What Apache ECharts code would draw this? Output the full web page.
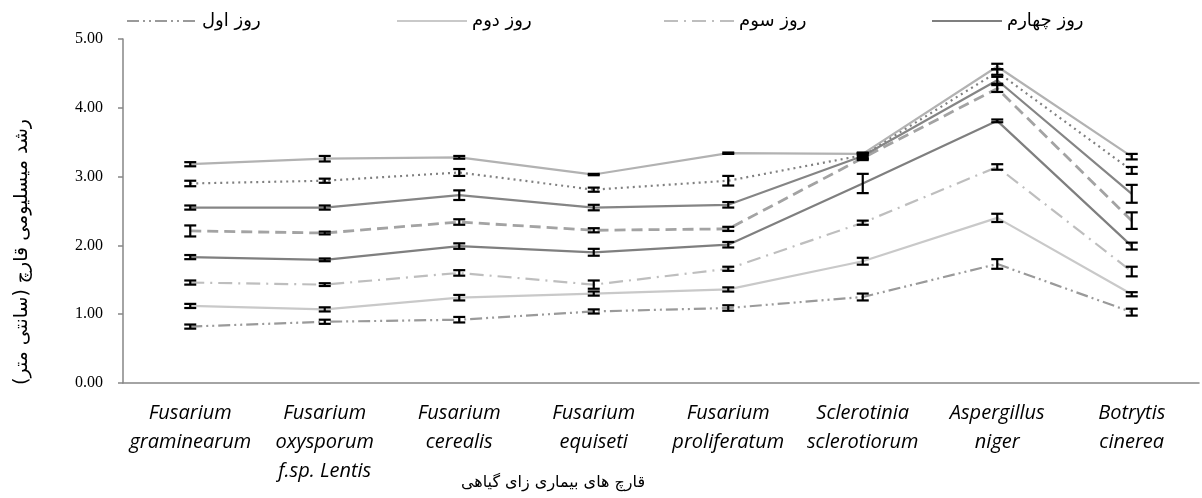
<!DOCTYPE html>
<html><head><meta charset="utf-8">
<script src="https://cdn.jsdelivr.net/npm/echarts@6/dist/echarts.min.js"></script>
<style>html,body{margin:0;padding:0;background:#fff}#c{width:1202px;height:498px}</style>
</head><body><div id="c"></div>
<script>
const categories = [
  'Fusarium\ngraminearum', 'Fusarium\noxysporum\nf.sp. Lentis', 'Fusarium\ncerealis',
  'Fusarium\nequiseti', 'Fusarium\nproliferatum', 'Sclerotinia\nsclerotiorum',
  'Aspergillus\nniger', 'Botrytis\ncinerea'
];
const seriesNames = ['روز اول', 'روز دوم', 'روز سوم', 'روز چهارم', 'روز پنجم', 'روز ششم', 'روز هفتم', 'روز هشتم'];
const day1 = [0.82, 0.89, 0.92, 1.04, 1.09, 1.25, 1.73, 1.03];
const day2 = [1.12, 1.07, 1.24, 1.30, 1.36, 1.77, 2.40, 1.29];
const day3 = [1.46, 1.43, 1.60, 1.43, 1.66, 2.33, 3.14, 1.62];
const day4 = [1.83, 1.79, 1.99, 1.90, 2.01, 2.90, 3.81, 1.99];
const day5 = [2.21, 2.18, 2.34, 2.22, 2.24, 3.27, 4.28, 2.36];
const day6 = [2.55, 2.55, 2.73, 2.55, 2.59, 3.30, 4.40, 2.75];
const day7 = [2.90, 2.94, 3.06, 2.81, 2.94, 3.31, 4.52, 3.09];
const day8 = [3.18, 3.26, 3.28, 3.03, 3.34, 3.33, 4.60, 3.29];
const err1 = [0.03, 0.03, 0.04, 0.03, 0.04, 0.05, 0.07, 0.05];
const err2 = [0.03, 0.03, 0.04, 0.03, 0.03, 0.05, 0.06, 0.03];
const err3 = [0.03, 0.02, 0.04, 0.06, 0.03, 0.03, 0.04, 0.07];
const err4 = [0.03, 0.02, 0.04, 0.05, 0.04, 0.14, 0.02, 0.05];
const err5 = [0.08, 0.02, 0.04, 0.03, 0.03, 0.03, 0.05, 0.12];
const err6 = [0.03, 0.03, 0.07, 0.04, 0.04, 0.04, 0.05, 0.13];
const err7 = [0.04, 0.03, 0.05, 0.03, 0.07, 0.04, 0.04, 0.05];
const err8 = [0.03, 0.04, 0.02, 0.01, 0.01, 0.01, 0.04, 0.04];
const yAxisTitle = 'رشد میسلیومی قارچ (سانتی متر)';
const xAxisTitle = 'قارچ های بیماری زای گیاهی';

const values = [day1, day2, day3, day4, day5, day6, day7, day8];
const errors = [err1, err2, err3, err4, err5, err6, err7, err8];
const styles = [
  {color: '#9a9a9a', type: [12, 4, 2, 4, 2, 4], width: 2.2},
  {color: '#c9c9c9', type: 'solid', width: 2.2},
  {color: '#bebebe', type: [14, 6, 2, 6], width: 2.2},
  {color: '#7f7f7f', type: 'solid', width: 2.2},
  {color: '#a3a3a3', type: [11, 6], width: 2.8},
  {color: '#858585', type: 'solid', width: 2.2},
  {color: '#808080', type: [2, 4], width: 2.2},
  {color: '#b2b2b2', type: 'solid', width: 2.2}
];

const series = [];
values.forEach((vals, i) => {
  series.push({
    name: seriesNames[i], type: 'line', data: vals, symbol: 'none',
    lineStyle: styles[i], itemStyle: {color: styles[i].color}, z: 2, animation: false
  });
});
values.forEach((vals, i) => {
  series.push({
    type: 'custom', z: 5, animation: false, silent: true,
    data: vals.map((v, j) => [j, v, errors[i][j]]),
    renderItem: function (params, api) {
      const x = api.value(0), v = api.value(1), e = api.value(2);
      const top = api.coord([x, v + e]);
      const bot = api.coord([x, v - e]);
      const w = 6;
      const st = {stroke: '#000', lineWidth: 2.2};
      return {type: 'group', children: [
        {type: 'line', shape: {x1: top[0], y1: top[1], x2: bot[0], y2: bot[1]}, style: st},
        {type: 'line', shape: {x1: top[0] - w, y1: top[1], x2: top[0] + w, y2: top[1]}, style: st},
        {type: 'line', shape: {x1: bot[0] - w, y1: bot[1], x2: bot[0] + w, y2: bot[1]}, style: st}
      ]};
    }
  });
});

const legendLefts = [121, 391, 658, 926];
const legends = legendLefts.map((l, i) => ({
  data: [seriesNames[i]], left: l, top: 7, itemWidth: 70, itemHeight: 16,
  selectedMode: false, itemStyle: {opacity: 0},
  textStyle: {fontFamily: 'DejaVu Sans', fontSize: 18, color: '#000'}
}));

const chart = echarts.init(document.getElementById('c'));
chart.setOption({
  backgroundColor: '#fff',
  animation: false,
  legend: legends,
  grid: {left: 123, right: 3, top: 39, bottom: 115, containLabel: false, outerBoundsMode: 'none'},
  xAxis: {
    type: 'category', data: categories, boundaryGap: true,
    axisLine: {lineStyle: {color: '#868686', width: 1.5}},
    axisTick: {alignWithLabel: true, length: 5, lineStyle: {color: '#868686', width: 1.5}},
    axisLabel: {interval: 0, fontStyle: 'italic', fontFamily: 'Open Sans', fontSize: 20, lineHeight: 29, margin: 16, color: '#000'}
  },
  yAxis: {
    type: 'value', min: 0, max: 5, interval: 1,
    axisLine: {show: true, lineStyle: {color: '#868686', width: 1.5}},
    axisTick: {show: true, length: 5, lineStyle: {color: '#868686', width: 1.5}},
    splitLine: {show: false},
    axisLabel: {formatter: v => v.toFixed(2), fontFamily: 'Liberation Serif', fontSize: 16, margin: 20, color: '#000'}
  },
  graphic: [
    {type: 'text', x: 22, y: 252, rotation: Math.PI / 2,
     style: {text: yAxisTitle, font: '19px "DejaVu Sans"', fill: '#000', align: 'center', verticalAlign: 'middle'}},
    {type: 'text', x: 553, y: 483,
     style: {text: xAxisTitle, font: '16px "DejaVu Sans"', fill: '#000', align: 'center', verticalAlign: 'middle'}}
  ],
  series: series
});
</script></body></html>
